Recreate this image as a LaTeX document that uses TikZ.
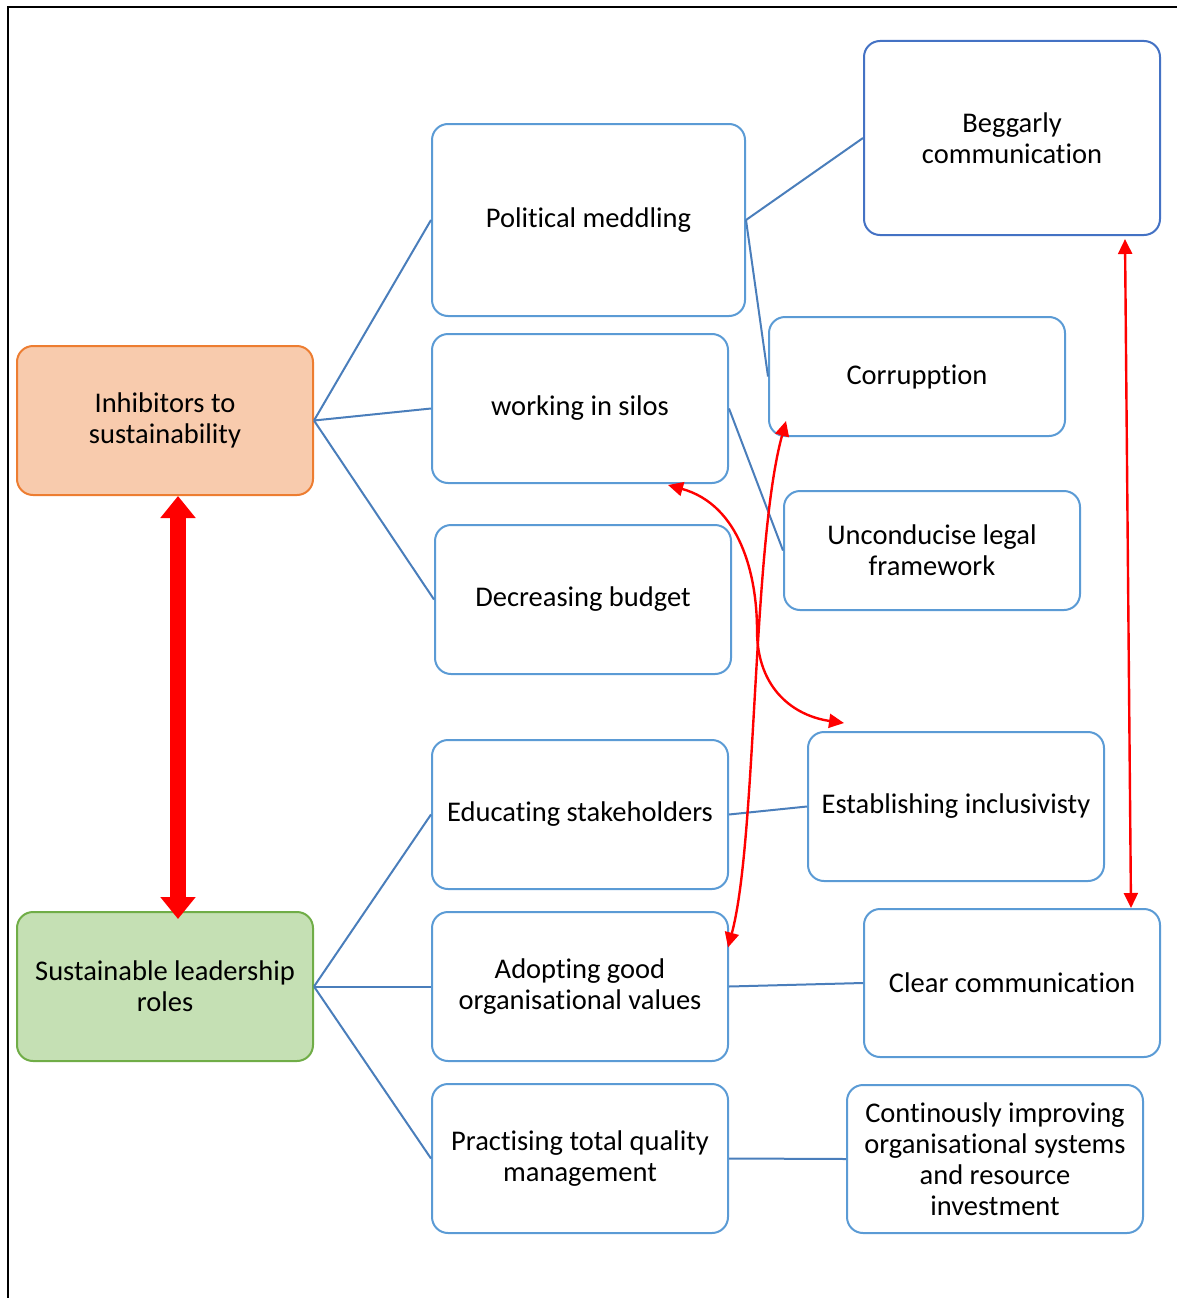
\documentclass[tikz,border=0pt]{standalone}
\usepackage{fontspec}
\setmainfont{Carlito}[Ligatures=NoCommon]
\usetikzlibrary{arrows.meta,calc}
\definecolor{boxblue}{HTML}{5B9BD5}
\definecolor{darkblue}{HTML}{4472C4}
\definecolor{linkblue}{HTML}{4A7EBB}
\definecolor{orangefill}{HTML}{F8CBAD}
\definecolor{orangeline}{HTML}{ED7D31}
\definecolor{greenfill}{HTML}{C5E0B4}
\definecolor{greenline}{HTML}{70AD47}
\begin{document}
\begin{tikzpicture}[x=1pt,y=-1pt,
  box/.style={draw=boxblue, line width=2pt, rounded corners=16pt, fill=white,
    align=center, inner sep=0pt, font=\fontsize{28.5}{31}\selectfont},
  link/.style={draw=linkblue, line width=2pt},
  rel/.style={draw=red, line width=2.4pt,
    {Triangle[length=15pt,width=14pt]}-{Triangle[length=15pt,width=14pt]}},
  ]
\useasboundingbox (0,0) rectangle (1177,1298);
% page frame
\draw[line width=2.5pt] (8,1298) -- (8,7) -- (1177,7);

% main categories
\node[box, draw=orangeline, fill=orangefill, minimum width=296pt, minimum height=149pt] (inh) at (165,420.5) {Inhibitors to\\sustainability};
\node[box, draw=greenline, fill=greenfill, minimum width=296pt, minimum height=149pt] (sus) at (165,986.5) {Sustainable leadership\\roles};

% inhibitors
\node[box, minimum width=313pt, minimum height=192pt] (pol) at (588.5,220) {Political meddling};
\node[box, minimum width=296pt, minimum height=149pt] (sil) at (580,408.5) {working in silos};
\node[box, minimum width=296pt, minimum height=149pt] (bud) at (583,599.5) {Decreasing budget};
\node[box, draw=darkblue, minimum width=296pt, minimum height=194pt] (beg) at (1012,138) {Beggarly\\communication};
\node[box, minimum width=296pt, minimum height=119pt] (cor) at (917,376.5) {Corrupption};
\node[box, minimum width=296pt, minimum height=119pt] (leg) at (932,550.5) {Unconducise legal\\framework};

% leadership roles
\node[box, minimum width=296pt, minimum height=149pt] (edu) at (580,814.5) {Educating stakeholders};
\node[box, minimum width=296pt, minimum height=149pt] (inc) at (956,806.5) {Establishing inclusivisty};
\node[box, minimum width=296pt, minimum height=149pt] (ado) at (580,986.5) {Adopting good\\organisational values};
\node[box, minimum width=296pt, minimum height=148pt] (clr) at (1012,983) {Clear communication};
\node[box, minimum width=296pt, minimum height=149pt] (tqm) at (580,1158.5) {Practising total quality\\management};
\node[box, minimum width=296pt, minimum height=148pt] (imp) at (995,1159) {Continously improving\\organisational systems\\and resource\\investment};

% tree links
\draw[link] (inh.east) -- (pol.west);
\draw[link] (inh.east) -- (sil.west);
\draw[link] (inh.east) -- (bud.west);
\draw[link] (pol.east) -- (beg.west);
\draw[link] (pol.east) -- (cor.west);
\draw[link] (sil.east) -- (leg.west);
\draw[link] (sus.east) -- (edu.west);
\draw[link] (sus.east) -- (ado.west);
\draw[link] (sus.east) -- (tqm.west);
\draw[link] (edu.east) -- (inc.west);
\draw[link] (ado.east) -- (clr.west);
\draw[link] (tqm.east) -- (imp.west);

% two-way relations
\draw[red, line width=16pt, {Triangle[length=22pt,width=34pt]}-{Triangle[length=22pt,width=34pt]}]
  ([xshift=13pt]inh.south) -- ([xshift=13pt,yshift=-8pt]sus.north);
\draw[rel] ([xshift=113pt,yshift=-3pt]beg.south) -- ([xshift=119pt]clr.north);
\draw[rel] ($(cor.south west)+(18,-16)$) .. controls (752,545) and (757,840) .. ($(ado.east)+(-1,-39)$);
\draw[rel] ($(sil.south)+(88,1)$) .. controls (740,505) and (757,575) .. (757,630)
  .. controls (757,690) and (795,716) .. ($(inc.north west)+(37,-8)$);
\end{tikzpicture}
\end{document}
